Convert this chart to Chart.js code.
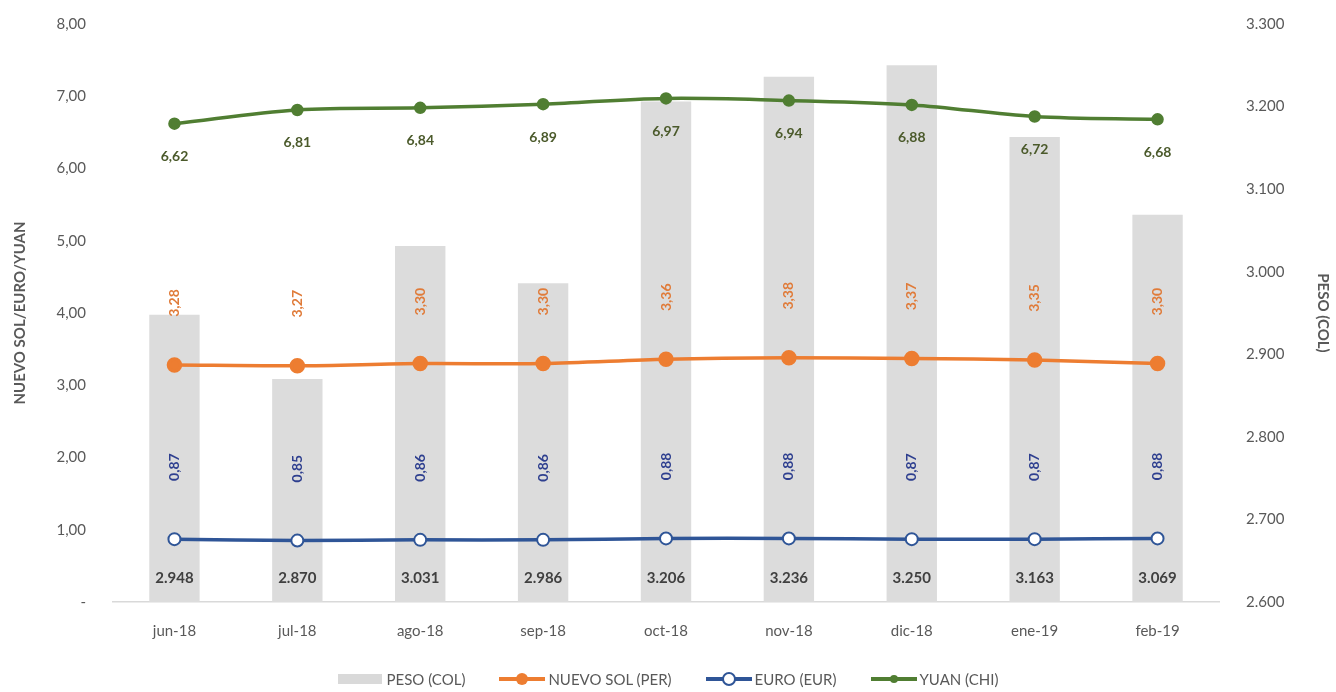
<!DOCTYPE html>
<html>
<head>
<meta charset="utf-8">
<script src="https://cdn.jsdelivr.net/npm/chart.js@4"></script>
<style>
  body { margin: 0; background: #fff; }
  #wrap { position: relative; width: 1336px; height: 692px; }
  #legend { position: absolute; left: 0; right: 0; top: 670px; display: flex; justify-content: center;
    font-family: Lato, sans-serif; font-size: 15px; color: #595959; }
  .item { display: flex; align-items: center; margin: 0 17px; }
  .sw { position: relative; width: 46px; height: 14px; margin-right: 3px; }
  .box { position: absolute; left: 0; top: 2px; width: 44px; height: 10px; background: #d9d9d9; }
  .ln { position: absolute; left: 0; top: 5px; width: 46px; height: 4px; }
  .dot { position: absolute; border-radius: 50%; }
</style>
</head>
<body>
<div id="wrap">
  <canvas id="chart" width="1336" height="692"></canvas>
  <div id="legend">
    <div class="item"><div class="sw"><div class="box"></div></div>PESO (COL)</div>
    <div class="item"><div class="sw"><div class="ln" style="background:#ed7d31"></div><div class="dot" style="left:17px;top:1px;width:12px;height:12px;background:#ed7d31"></div></div>NUEVO SOL (PER)</div>
    <div class="item"><div class="sw"><div class="ln" style="background:#2f5597"></div><div class="dot" style="left:16px;top:0px;width:10px;height:10px;background:#fff;border:2px solid #2f5597"></div></div>EURO (EUR)</div>
    <div class="item"><div class="sw"><div class="ln" style="background:#507e32"></div><div class="dot" style="left:19px;top:3px;width:8px;height:8px;background:#507e32"></div></div>YUAN (CHI)</div>
  </div>
</div>
<script>
// === Data ===
const months = ["jun-18", "jul-18", "ago-18", "sep-18", "oct-18", "nov-18", "dic-18", "ene-19", "feb-19"];
const peso = [2948, 2870, 3031, 2986, 3206, 3236, 3250, 3163, 3069];
const sol = [3.28, 3.27, 3.30, 3.30, 3.36, 3.38, 3.37, 3.35, 3.30];
const euro = [0.87, 0.85, 0.86, 0.86, 0.88, 0.88, 0.87, 0.87, 0.88];
const yuan = [6.62, 6.81, 6.84, 6.89, 6.97, 6.94, 6.88, 6.72, 6.68];

const FONT = "Lato, sans-serif";
const fmt2 = v => v.toFixed(2).replace(".", ",");
const fmtK = v => Math.round(v).toString().replace(/\B(?=(\d{3})+(?!\d))/g, ".");

// draws the value labels next to bars and points
const valueLabels = {
  id: "valueLabels",
  afterDatasetsDraw(chart) {
    const ctx = chart.ctx;
    ctx.save();
    ctx.textAlign = "center";
    ctx.textBaseline = "middle";

    chart.getDatasetMeta(0).data.forEach((bar, i) => {
      ctx.font = "bold 15px " + FONT;
      ctx.fillStyle = "#404040";
      ctx.fillText(fmtK(peso[i]), bar.x, 578);
    });

    const rotated = (metaIdx, vals, color, dy) => {
      chart.getDatasetMeta(metaIdx).data.forEach((pt, i) => {
        ctx.save();
        ctx.translate(pt.x, pt.y - dy);
        ctx.rotate(-Math.PI / 2);
        ctx.font = "bold 14px " + FONT;
        ctx.fillStyle = color;
        ctx.fillText(fmt2(vals[i]), 0, 0);
        ctx.restore();
      });
    };
    rotated(1, sol, "#e07b39", 62);
    rotated(2, euro, "#2e3f8f", 72);

    chart.getDatasetMeta(3).data.forEach((pt, i) => {
      ctx.font = "bold 14px " + FONT;
      ctx.fillStyle = "#4b5a2b";
      ctx.fillText(fmt2(yuan[i]), pt.x, pt.y + 33);
    });
    ctx.restore();
  }
};

// fixed widths for the side axes, no extra top/bottom overflow padding
const fitSide = w => s => {
  s.width = w;
  s.paddingTop = 0;
  s.paddingBottom = 0;
};

const ctx = document.getElementById("chart").getContext("2d");
new Chart(ctx, {
  type: "bar",
  data: {
    labels: months,
    datasets: [
      { type: "bar", label: "PESO (COL)", data: peso, yAxisID: "y1",
        backgroundColor: "#dcdcdc", barPercentage: 0.41, categoryPercentage: 1, order: 4 },
      { type: "line", label: "NUEVO SOL (PER)", data: sol, yAxisID: "y",
        borderColor: "#ed7d31", backgroundColor: "#ed7d31", borderWidth: 3.5,
        pointRadius: 6, pointBackgroundColor: "#ed7d31", tension: 0.3, order: 1 },
      { type: "line", label: "EURO (EUR)", data: euro, yAxisID: "y",
        borderColor: "#2f5597", backgroundColor: "#fff", borderWidth: 3.5,
        pointRadius: 6, pointBorderWidth: 2, pointBackgroundColor: "#fff", tension: 0.3, order: 2 },
      { type: "line", label: "YUAN (CHI)", data: yuan, yAxisID: "y",
        borderColor: "#507e32", backgroundColor: "#507e32", borderWidth: 3.5,
        pointRadius: 4.5, pointBackgroundColor: "#507e32", tension: 0.35, order: 0 }
    ]
  },
  options: {
    responsive: false,
    animation: false,
    layout: { padding: { top: 24, bottom: 0, left: 0, right: 0 } },
    plugins: { legend: { display: false }, tooltip: { enabled: false } },
    scales: {
      x: {
        grid: { display: false, drawTicks: false },
        border: { display: true, color: "#d9d9d9", width: 1.5 },
        ticks: { color: "#595959", font: { family: FONT, size: 15 }, padding: 20, maxRotation: 0 },
        afterFit: s => { s.height = 90; }
      },
      y: {
        position: "left", min: 0, max: 8,
        grid: { display: false, drawTicks: false },
        border: { display: false },
        ticks: { stepSize: 1, color: "#595959", font: { family: FONT, size: 15 }, padding: 27,
          callback: v => v === 0 ? "-" : fmt2(v) },
        title: { display: true, text: "NUEVO SOL/EURO/YUAN", color: "#595959", padding: { top: 11, bottom: 4 },
          font: { family: FONT, size: 15, weight: "bold" } },
        afterFit: fitSide(113)
      },
      y1: {
        position: "right", min: 2600, max: 3300,
        grid: { display: false, drawTicks: false },
        border: { display: false },
        ticks: { stepSize: 100, color: "#595959", font: { family: FONT, size: 15 }, padding: 27,
          callback: v => fmtK(v) },
        title: { display: true, text: "PESO (COL)", color: "#595959",
          font: { family: FONT, size: 15, weight: "bold" } },
        afterFit: fitSide(117)
      }
    }
  },
  plugins: [valueLabels]
});
</script>
</body>
</html>
